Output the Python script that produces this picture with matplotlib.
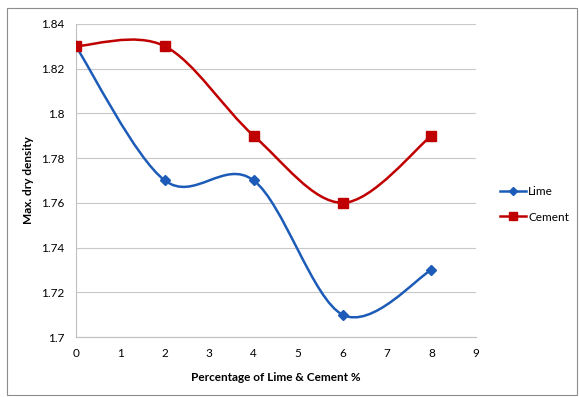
import matplotlib
matplotlib.use('Agg')
import matplotlib.pyplot as plt
from matplotlib.path import Path
from matplotlib.patches import PathPatch, Rectangle
from matplotlib.lines import Line2D

# percentage of additive vs maximum dry density
pct = [0, 2, 4, 6, 8]
lime = [1.83, 1.77, 1.77, 1.71, 1.73]
cement = [1.83, 1.83, 1.79, 1.76, 1.79]

plt.rcParams['font.family'] = ['Lato', 'DejaVu Sans']

def smoothPath(xs, ys):
    # spreadsheet-style smoothed line: cubic bezier through each point
    pts = list(zip(xs, ys))
    verts = [pts[0]]
    codes = [Path.MOVETO]
    n = len(pts)
    for i in range(n - 1):
        p0 = pts[i - 1] if i > 0 else pts[i]
        p1, p2 = pts[i], pts[i + 1]
        p3 = pts[i + 2] if i + 2 < n else pts[i + 1]
        c1 = (p1[0] + (p2[0] - p0[0]) / 6, p1[1] + (p2[1] - p0[1]) / 6)
        c2 = (p2[0] - (p3[0] - p1[0]) / 6, p2[1] - (p3[1] - p1[1]) / 6)
        verts += [c1, c2, p2]
        codes += [Path.CURVE4] * 3
    return Path(verts, codes)

fig = plt.figure(figsize=(5.79, 3.97), dpi=100)
ax = fig.add_axes([0.131, 0.151, 0.691, 0.789])

series = [('Lime', lime, '#1c5cb8', 'D', 5),
          ('Cement', cement, '#c00000', 's', 7)]
handles = []
for name, vals, col, mk, ms in series:
    ax.add_patch(PathPatch(smoothPath(pct, vals), facecolor='none',
                           edgecolor=col, lw=1.8, zorder=3))
    ax.plot(pct, vals, ls='none', marker=mk, ms=ms, color=col, zorder=4)
    handles.append(Line2D([], [], color=col, lw=1.8, marker=mk, ms=ms - 1, label=name))

ax.set_xlim(0, 9)
ax.set_ylim(1.7, 1.84)
ax.set_xticks(range(0, 10))
ax.set_yticks([1.7, 1.72, 1.74, 1.76, 1.78, 1.8, 1.82, 1.84])
ax.set_yticklabels(['1.7', '1.72', '1.74', '1.76', '1.78', '1.8', '1.82', '1.84'])
ax.yaxis.grid(True, color='#c8c8c8', lw=0.8)
ax.set_axisbelow(True)
for s in ['top', 'right']:
    ax.spines[s].set_visible(False)
ax.spines['left'].set_color('#bfbfbf')
ax.spines['bottom'].set_color('#bfbfbf')
ax.tick_params(length=0, labelsize=8.5, pad=8)
ax.set_xlabel('Percentage of Lime & Cement %', fontsize=8.5, fontweight='bold', labelpad=9)
ax.set_ylabel('Max. dry density', fontsize=8.5, fontweight='bold', labelpad=5)

fig.legend(handles=handles, loc='center left', bbox_to_anchor=(0.845, 0.485),
           frameon=False, fontsize=8.5, handlelength=2.2, labelspacing=1.2,
           handletextpad=0.2)

fig.patches.append(Rectangle((0.012, 0.005), 0.985, 0.975, transform=fig.transFigure,
                             fill=False, edgecolor='#8c8c8c', lw=0.8))

fig.savefig('out.png', dpi=100)
